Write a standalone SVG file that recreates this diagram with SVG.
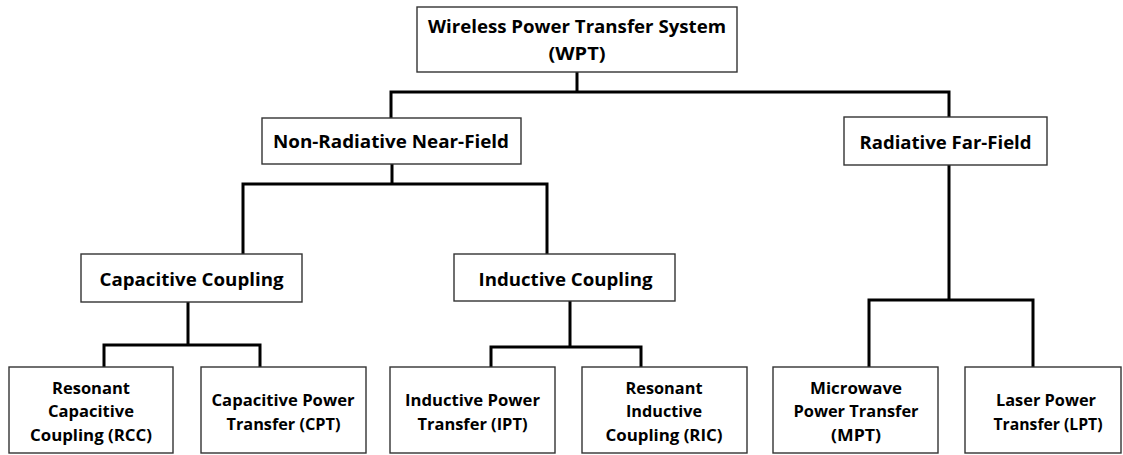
<svg xmlns="http://www.w3.org/2000/svg" width="1123" height="455" viewBox="0 0 1123 455">
  <style>
    .box { fill: #ffffff; stroke: #333333; stroke-width: 1.4; }
    .lbl { font-family: "Open Sans", "Liberation Sans", sans-serif; font-weight: bold; fill: #000000; text-anchor: middle; }
    .big { font-size: 18px; }
    .small { font-size: 16.5px; }
    .wire { fill: none; stroke: #000000; stroke-width: 3; stroke-linejoin: miter; stroke-linecap: square; }
  </style>
  <rect width="1123" height="455" fill="#ffffff"/>

  <!-- tree connectors -->
  <g id="connectors">
    <path class="wire" d="M577 72 V92 M391 117 V92 H949 V117"/>
    <path class="wire" d="M392 164 V184 M243 254 V184 H547 V254"/>
    <path class="wire" d="M949 165 V300 M869 367 V300 H1033 V367"/>
    <path class="wire" d="M188 302 V345 M104 367 V345 H260 V367"/>
    <path class="wire" d="M570 301 V347 M491 367 V347 H641 V367"/>
  </g>

  <g id="wpt">
    <rect class="box" x="417" y="7" width="320" height="65"/>
    <text class="lbl big" x="577" y="33" textLength="298" lengthAdjust="spacingAndGlyphs">Wireless Power Transfer System</text>
    <text class="lbl big" x="577" y="60" textLength="57" lengthAdjust="spacingAndGlyphs">(WPT)</text>
  </g>

  <g id="near-field">
    <rect class="box" x="262" y="118" width="259" height="46"/>
    <text class="lbl big" x="391" y="148" textLength="236" lengthAdjust="spacingAndGlyphs">Non-Radiative Near-Field</text>
  </g>

  <g id="far-field">
    <rect class="box" x="844" y="117" width="203" height="48"/>
    <text class="lbl big" x="945.5" y="149" textLength="172" lengthAdjust="spacingAndGlyphs">Radiative Far-Field</text>
  </g>

  <g id="capacitive">
    <rect class="box" x="81" y="254" width="221" height="48"/>
    <text class="lbl big" x="191.5" y="286" textLength="184" lengthAdjust="spacingAndGlyphs">Capacitive Coupling</text>
  </g>

  <g id="inductive">
    <rect class="box" x="454" y="254" width="221" height="47"/>
    <text class="lbl big" x="565.5" y="286" textLength="174" lengthAdjust="spacingAndGlyphs">Inductive Coupling</text>
  </g>

  <g id="rcc">
    <rect class="box" x="9" y="367" width="164" height="86"/>
    <text class="lbl small" x="91" y="394" textLength="78" lengthAdjust="spacingAndGlyphs">Resonant</text>
    <text class="lbl small" x="91" y="417" textLength="86" lengthAdjust="spacingAndGlyphs">Capacitive</text>
    <text class="lbl small" x="91" y="440.5" textLength="122" lengthAdjust="spacingAndGlyphs">Coupling (RCC)</text>
  </g>

  <g id="cpt">
    <rect class="box" x="201" y="367" width="165" height="86"/>
    <text class="lbl small" x="283" y="406" textLength="143" lengthAdjust="spacingAndGlyphs">Capacitive Power</text>
    <text class="lbl small" x="283.5" y="429.5" textLength="114" lengthAdjust="spacingAndGlyphs">Transfer (CPT)</text>
  </g>

  <g id="ipt">
    <rect class="box" x="390" y="367" width="165" height="86"/>
    <text class="lbl small" x="472.5" y="406" textLength="135" lengthAdjust="spacingAndGlyphs">Inductive Power</text>
    <text class="lbl small" x="472.5" y="429.5" textLength="110" lengthAdjust="spacingAndGlyphs">Transfer (IPT)</text>
  </g>

  <g id="ric">
    <rect class="box" x="582" y="367" width="165" height="86"/>
    <text class="lbl small" x="664" y="394" textLength="77" lengthAdjust="spacingAndGlyphs">Resonant</text>
    <text class="lbl small" x="664" y="417" textLength="76" lengthAdjust="spacingAndGlyphs">Inductive</text>
    <text class="lbl small" x="664" y="440.5" textLength="117" lengthAdjust="spacingAndGlyphs">Coupling (RIC)</text>
  </g>

  <g id="mpt">
    <rect class="box" x="773" y="367" width="165" height="86"/>
    <text class="lbl small" x="856" y="394" textLength="92" lengthAdjust="spacingAndGlyphs">Microwave</text>
    <text class="lbl small" x="856" y="417" textLength="125" lengthAdjust="spacingAndGlyphs">Power Transfer</text>
    <text class="lbl small" x="856" y="440.5" textLength="50" lengthAdjust="spacingAndGlyphs">(MPT)</text>
  </g>

  <g id="lpt">
    <rect class="box" x="965" y="367" width="156" height="86"/>
    <text class="lbl small" x="1046" y="406" textLength="100" lengthAdjust="spacingAndGlyphs">Laser Power</text>
    <text class="lbl small" x="1048" y="430" textLength="109" lengthAdjust="spacingAndGlyphs">Transfer (LPT)</text>
  </g>
</svg>
